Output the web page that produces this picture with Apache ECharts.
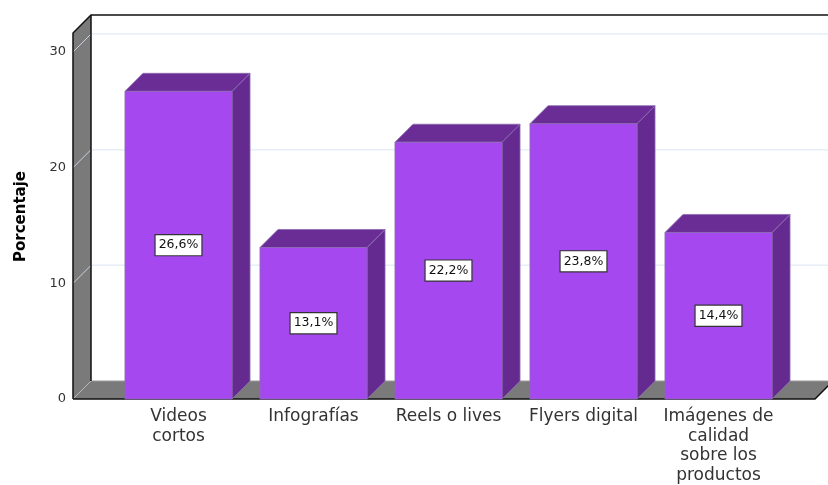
<!DOCTYPE html>
<html>
<head>
<meta charset="utf-8">
<style>
  html, body { margin: 0; padding: 0; background: #ffffff; }
  #chart { width: 828px; height: 485px; }
</style>
<script src="https://cdn.jsdelivr.net/npm/echarts@6/dist/echarts.min.js"></script>
</head>
<body>
<div id="chart"></div>
<script>
// Categories and percentages of the bar chart
const categories = ['Videos\ncortos', 'Infografías', 'Reels o lives', 'Flyers digital', 'Imágenes de\ncalidad\nsobre los\nproductos'];
const percentages = [26.6, 13.1, 22.2, 23.8, 14.4];
const yTicks = [0, 10, 20, 30];

const DEPTH = 18;               // 3D offset of the back plane
const FONT = 'DejaVu Sans';
const BAR_FRONT = '#a548ef';
const BAR_TOP = '#6a2c95';
const BAR_SIDE = '#652a90';
const WALL = '#7a7a7a';

function fmt(v) {
  return v.toFixed(1).replace('.', ',') + '%';
}

const chart = echarts.init(document.getElementById('chart'), null, { renderer: 'canvas' });

// Walls, floor and back-plane grid lines of the 3D frame
function renderFrame(params, api) {
  const cs = params.coordSys;
  const d = DEPTH;
  const yOf = v => api.coord([0, v])[1];
  const y0 = yOf(0);
  const yTop = yOf(yTicks[yTicks.length - 1]) - 19;
  const xL = cs.x - 38;
  const xR = cs.x + cs.width + 29;
  const children = [];

  // back wall
  children.push({
    type: 'rect',
    shape: { x: xL + d, y: yTop - d, width: 900, height: y0 - yTop },
    style: { fill: '#ffffff' }
  });
  // back wall grid lines
  yTicks.forEach(v => {
    if (v === 0) return;
    const y = yOf(v) - d;
    children.push({
      type: 'line',
      shape: { x1: xL + d, y1: y, x2: 900, y2: y },
      style: { stroke: '#e6eef8', lineWidth: 1.5 }
    });
  });
  // left wall
  children.push({
    type: 'polygon',
    shape: { points: [[xL, yTop], [xL + d, yTop - d], [xL + d, y0 - d], [xL, y0]] },
    style: { fill: WALL }
  });
  // left wall grid lines
  yTicks.forEach(v => {
    const y = yOf(v);
    children.push({
      type: 'line',
      shape: { x1: xL, y1: y, x2: xL + d, y2: y - d },
      style: { stroke: '#c9d3df', lineWidth: 1 }
    });
  });
  // floor
  children.push({
    type: 'polygon',
    shape: { points: [[xL, y0], [xL + d, y0 - d], [xR + d, y0 - d], [xR, y0]] },
    style: { fill: WALL }
  });
  children.push({
    type: 'line',
    shape: { x1: xL + d, y1: y0 - d, x2: xR + d, y2: y0 - d },
    style: { stroke: '#9a9a9a', lineWidth: 1 }
  });
  children.push({
    type: 'line',
    shape: { x1: xL, y1: y0, x2: xL + d, y2: y0 - d },
    style: { stroke: '#b8b8b8', lineWidth: 1 }
  });
  // outline edges
  const edge = { stroke: '#111111', lineWidth: 1.5, fill: null };
  children.push({ type: 'polyline', shape: { points: [[xL, y0], [xL, yTop], [xL + d, yTop - d], [900, yTop - d]] }, style: edge });
  children.push({ type: 'line', shape: { x1: xL + d, y1: yTop - d, x2: xL + d, y2: y0 - d }, style: edge });
  children.push({ type: 'polyline', shape: { points: [[xL, y0], [xR, y0], [xR + d, y0 - d]] }, style: edge });

  return { type: 'group', children: children };
}

// One 3D bar: front face, top face, side face and a value label
function renderBar(params, api) {
  const idx = api.value(0);
  const val = api.value(1);
  const top = api.coord([idx, val]);
  const base = api.coord([idx, 0]);
  const w = api.size([1, 0])[0] * 0.793;
  const d = DEPTH;
  const x0 = top[0] - w / 2;
  const x1 = x0 + w;
  const yT = top[1];
  const yB = base[1];
  const edge = '#8c6bb0';
  return {
    type: 'group',
    children: [
      {
        type: 'polygon',
        shape: { points: [[x1, yT], [x1 + d, yT - d], [x1 + d, yB - d], [x1, yB]] },
        style: { fill: BAR_SIDE, stroke: edge, lineWidth: 0.8 }
      },
      {
        type: 'polygon',
        shape: { points: [[x0, yT], [x0 + d, yT - d], [x1 + d, yT - d], [x1, yT]] },
        style: { fill: BAR_TOP, stroke: edge, lineWidth: 0.8 }
      },
      {
        type: 'rect',
        shape: { x: x0, y: yT, width: w, height: yB - yT },
        style: { fill: BAR_FRONT, stroke: edge, lineWidth: 0.8 }
      },
      {
        type: 'text',
        x: top[0],
        y: (yT + yB) / 2,
        style: {
          text: fmt(val),
          fill: '#111111',
          font: '12.5px "' + FONT + '"',
          align: 'center',
          verticalAlign: 'middle',
          backgroundColor: '#ffffff',
          borderColor: '#333333',
          borderWidth: 1.2,
          padding: [4, 3, 3, 3]
        }
      }
    ]
  };
}

const option = {
  backgroundColor: '#ffffff',
  animation: false,
  grid: { left: 111, right: 42, top: 52, bottom: 84 },
  xAxis: {
    type: 'category',
    data: categories,
    axisLine: { show: false },
    axisTick: { show: false },
    axisLabel: {
      interval: 0,
      margin: 8,
      color: '#333333',
      fontFamily: FONT,
      fontSize: 17,
      lineHeight: 19.5
    }
  },
  yAxis: {
    type: 'value',
    min: 0,
    max: 30,
    interval: 10,
    splitLine: { show: false },
    axisLine: { show: false },
    axisTick: { show: false },
    axisLabel: {
      margin: 45,
      color: '#333333',
      fontFamily: FONT,
      fontSize: 13
    },
    name: 'Porcentaje',
    nameLocation: 'middle',
    nameGap: 82,
    nameTextStyle: {
      color: '#000000',
      fontFamily: FONT,
      fontSize: 15,
      fontWeight: 'bold',
      padding: [0, 0, 0, 18]
    }
  },
  series: [
    {
      type: 'custom',
      name: 'frame',
      silent: true,
      clip: false,
      z: 1,
      data: [[0, 0]],
      renderItem: renderFrame
    },
    {
      type: 'custom',
      name: 'Porcentaje',
      clip: false,
      z: 2,
      encode: { x: 0, y: 1 },
      data: percentages.map((v, i) => [i, v]),
      renderItem: renderBar
    }
  ]
};

chart.setOption(option);
</script>
</body>
</html>
